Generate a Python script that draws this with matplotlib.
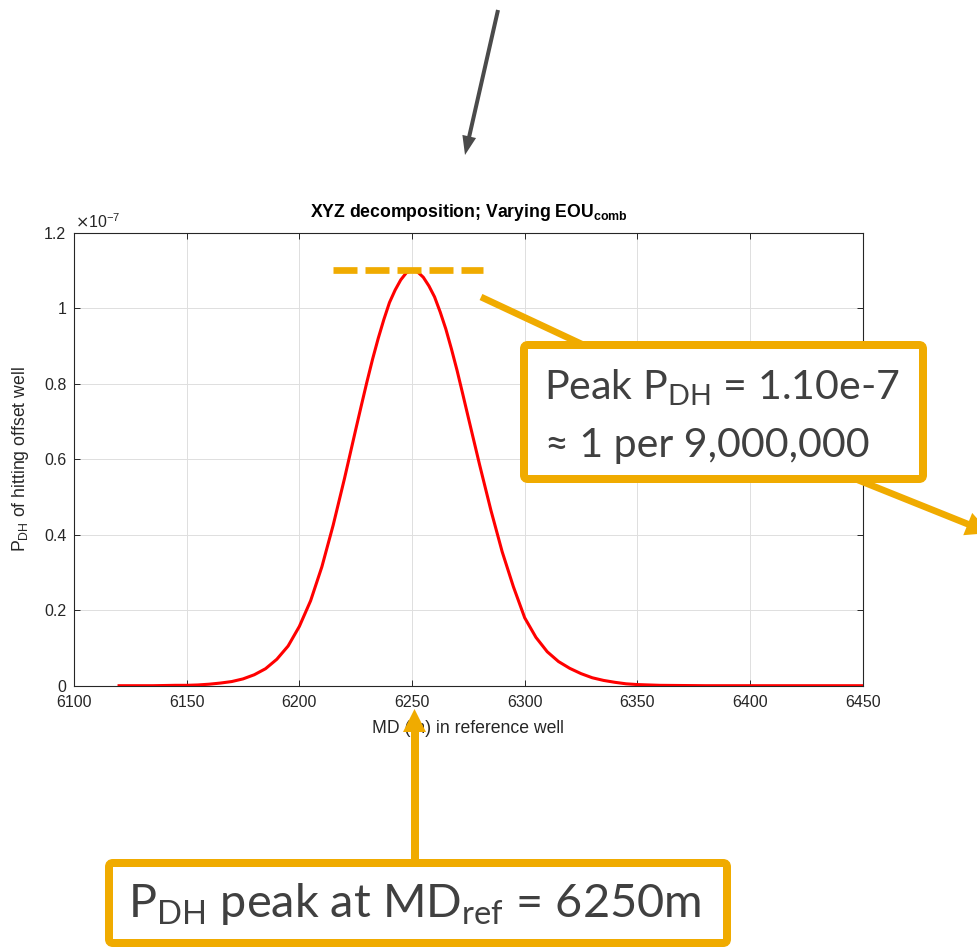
import numpy as np
import matplotlib
matplotlib.use('Agg')
import matplotlib.pyplot as plt
from matplotlib.patches import Polygon, FancyBboxPatch
from matplotlib.lines import Line2D
from matplotlib.transforms import IdentityTransform

# ---------------- data ----------------
md_ref = [6120, 6125, 6130, 6135, 6140, 6145, 6150, 6155, 6160, 6165,
          6170, 6175, 6180, 6185, 6190, 6195, 6200, 6205, 6210, 6215,
          6220, 6225, 6227.5, 6230, 6232.5, 6235, 6237.5, 6240, 6242.5, 6245,
          6247.5, 6250, 6252.5, 6255, 6257.5, 6260, 6262.5, 6265, 6267.5, 6270,
          6272.5, 6275, 6280, 6285, 6290, 6295, 6300, 6305, 6310, 6315,
          6320, 6325, 6330, 6335, 6340, 6345, 6350, 6355, 6360, 6370,
          6380, 6390, 6400, 6410, 6420, 6430, 6440, 6450]
p_dh_e7 = [0.000, 0.000, 0.000, 0.000, 0.0005, 0.001, 0.001, 0.002, 0.004, 0.007,
           0.011, 0.018, 0.029, 0.045, 0.070, 0.105, 0.157, 0.225, 0.315, 0.425,
           0.548, 0.678, 0.742, 0.805, 0.865, 0.920, 0.970, 1.015, 1.048, 1.075,
           1.094, 1.100, 1.096, 1.082, 1.059, 1.030, 0.990, 0.945, 0.892, 0.835,
           0.773, 0.710, 0.585, 0.465, 0.355, 0.262, 0.180, 0.128, 0.090, 0.064,
           0.046, 0.032, 0.021, 0.014, 0.009, 0.005, 0.003, 0.002, 0.001, 0.0005,
           0.0, 0.0, 0.0, 0.0, 0.0, 0.0, 0.0, 0.0]
peak_md = 6250
peak_p_e7 = 1.10
scale_exp = -7
x_ticks = [6100, 6150, 6200, 6250, 6300, 6350, 6400, 6450]
y_ticks_e7 = [0, 0.2, 0.4, 0.6, 0.8, 1.0, 1.2]
y_tick_labels = ['0', '0.2', '0.4', '0.6', '0.8', '1', '1.2']
x_limits = (6100, 6450)
y_limits_e7 = (0, 1.2)
title_text = r'XYZ decomposition; Varying EOU$_\mathregular{comb}$'
x_label = 'MD (m) in reference well'
y_label = r'P$_\mathregular{DH}$ of hitting offset well'
peak_note_1 = r'Peak P$_\mathregular{DH}$ = 1.10e-7'
peak_note_2 = '\u2248 1 per 9,000,000'
md_note = r'P$_\mathregular{DH}$ peak at MD$_\mathregular{ref}$ = 6250m'

# ---------------- styling ----------------
W, H = 977, 947
ORANGE = '#F0AB00'
GREY_TXT = '#404040'
AX_COL = '#262626'
ARROW_GREY = '#4a4a4a'
PT = 0.72  # points per pixel at dpi 100
ID = IdentityTransform()

plt.rcParams['font.family'] = ['Liberation Sans', 'DejaVu Sans']
plt.rcParams['lines.scale_dashes'] = False

fig = plt.figure(figsize=(W / 100, H / 100), dpi=100)
fig.patch.set_facecolor('white')
ax = fig.add_axes([74 / W, 1 - 685.7 / H, 788.7 / W, 453 / H])

scale = 10.0 ** scale_exp
ax.plot(md_ref, np.array(p_dh_e7) * scale, color='#ff0000', lw=2.2, zorder=3,
        solid_joinstyle='round')
ax.set_xlim(*x_limits)
ax.set_ylim(y_limits_e7[0] * scale, y_limits_e7[1] * scale)
ax.set_xticks(x_ticks)
ax.set_yticks(np.array(y_ticks_e7) * scale)
ax.set_yticklabels(y_tick_labels)
ax.tick_params(direction='in', length=4.3, width=0.7, colors=AX_COL,
               top=True, right=True, labelsize=11.5)
ax.tick_params(axis='x', pad=7)
ax.tick_params(axis='y', pad=5.5)
ax.grid(True, color='#dedede', lw=0.7)
ax.set_axisbelow(True)
for s in ax.spines.values():
    s.set_color(AX_COL)
    s.set_linewidth(0.8)

# dashed peak marker
ax.plot([peak_md - 35, peak_md + 31.5], [peak_p_e7 * scale] * 2, color=ORANGE,
        lw=6.7 * PT, dashes=(24 * PT, 8 * PT), dash_capstyle='butt',
        zorder=5, clip_on=False)


def P(x, y):
    return (x, H - y)


# axis texts
fig.text(*P(468.3, 216.7), title_text, transform=ID, ha='center', va='baseline',
         fontsize=12.7, fontweight='bold', color='black')
fig.text(*P(468.3, 733), x_label, transform=ID, ha='center', va='baseline',
         fontsize=12.7, color=AX_COL)
fig.text(*P(25, 459.2), y_label, transform=ID, ha='center', va='baseline',
         rotation=90, rotation_mode='anchor', fontsize=12.7, color=AX_COL)
fig.text(*P(75, 228), r'$\times$10$^{\mathregular{-7}}$', transform=ID,
         ha='left', va='baseline', fontsize=11.5, color=AX_COL)


def arrow(tail, tip, shaft_px, head_len, head_w, color, z):
    tx, ty = tail
    hx, hy = tip
    dx, dy = hx - tx, hy - ty
    L = np.hypot(dx, dy)
    ux, uy = dx / L, dy / L
    nx, ny = -uy, ux
    bx, by = hx - head_len * ux, hy - head_len * uy
    fig.add_artist(Line2D([tx, bx + 2 * ux], [H - ty, H - (by + 2 * uy)],
                          lw=shaft_px * PT, color=color, solid_capstyle='butt',
                          transform=ID, zorder=z))
    pts = [P(hx, hy),
           P(bx + nx * head_w / 2, by + ny * head_w / 2),
           P(bx - nx * head_w / 2, by - ny * head_w / 2)]
    fig.add_artist(Polygon(pts, closed=True, facecolor=color, edgecolor='none',
                           transform=ID, zorder=z))


def line(p0, p1, w, color, z):
    fig.add_artist(Line2D([p0[0], p1[0]], [H - p0[1], H - p1[1]], lw=w * PT,
                          color=color, solid_capstyle='butt', transform=ID, zorder=z))


def box(x0, y0, x1, y1, z):
    fig.add_artist(FancyBboxPatch((x0, H - y1), x1 - x0, y1 - y0,
                                  boxstyle='round,pad=0,rounding_size=4',
                                  facecolor='white', edgecolor=ORANGE,
                                  lw=8 * PT, transform=ID, zorder=z))


# top grey arrow
arrow((498, 10), (465, 155), 4, 19, 14, ARROW_GREY, 6)

# connector from dashed line to box, and arrow out of box
line((481, 297), (590, 348), 6.7, ORANGE, 6)
arrow((858, 480), (990, 533), 6.7, 24, 24, ORANGE, 6)
box(524, 345, 923, 479, 7)

# vertical arrow and bottom box
arrow((414.5, 862), (414.5, 709), 8, 23, 23, ORANGE, 6)
box(109, 863, 727, 943, 7)

fig.canvas.draw()
r = fig.canvas.get_renderer()


def fit_text(s, x0, x1, yb, fs=None, fs0=32.0):
    t = fig.text(*P(x0, yb), s, transform=ID, fontsize=fs0,
                 family=['Lato', 'DejaVu Sans'], color=GREY_TXT,
                 ha='left', va='baseline', zorder=8)
    if fs is None:
        w = t.get_window_extent(renderer=r).width
        fs = fs0 * (x1 - x0) / w
    t.set_fontsize(fs)
    return fs


fs1 = fit_text(peak_note_1, 544, 900, 399)
fit_text(peak_note_2, 545, 891, 457, fs=fs1)
fit_text(md_note, 128, 702, 917)

fig.savefig('out.png', dpi=100)
